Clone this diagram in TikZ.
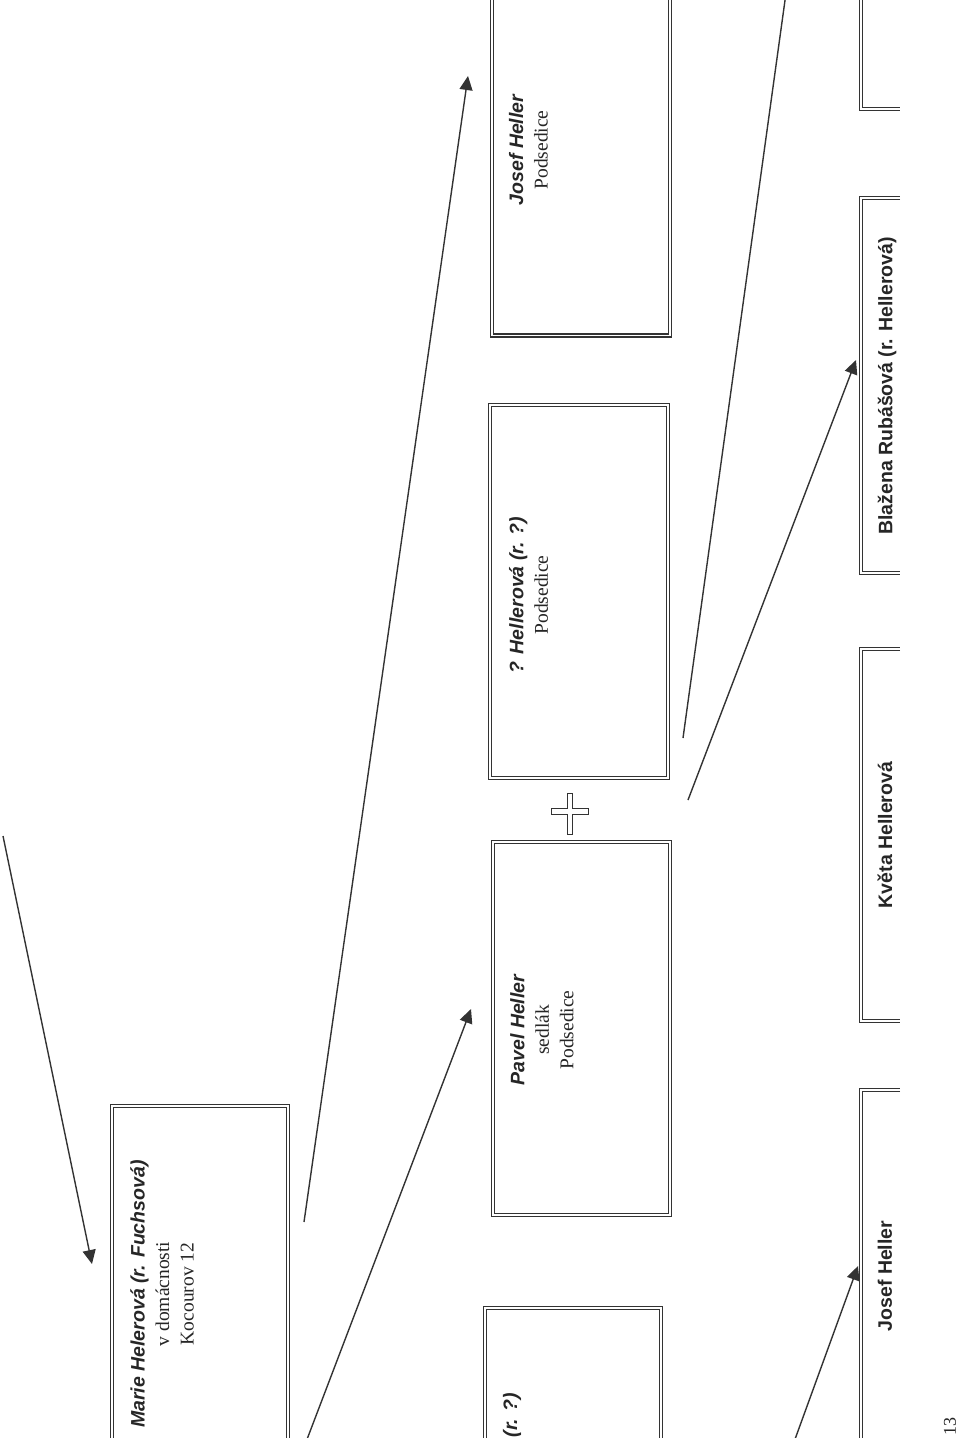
\documentclass[tikz,border=0pt]{standalone}
\usepackage{fontspec}
\setmainfont{Liberation Serif}
\setsansfont{Liberation Sans}
\usetikzlibrary{arrows.meta}
\definecolor{ink}{HTML}{333333}
\definecolor{txt}{HTML}{262626}
\begin{document}
\begin{tikzpicture}[x=1pt,y=-1pt,
  famebox/.style={draw=ink, double=white, double distance=1.8pt, line width=1.3pt, inner sep=0pt, rectangle},
  bracket/.style={draw=ink, double=white, double distance=1.8pt, line width=1.3pt},
  lbl/.style={rotate=90, align=center, text=txt, inner sep=0pt, font=\fontsize{19.5}{24.5}\selectfont},
  nm/.style={},
  conn/.style={draw=ink, line width=1.4pt},
  arr/.style={conn, -{Triangle[length=14pt,width=13pt]}}]
\useasboundingbox (0,0) rectangle (960,1438);
\clip (0,0) rectangle (960,1438);

% middle column boxes
\node[famebox, minimum width=178pt, minimum height=373pt] (josefbox) at (581,149) {};
\node[famebox, minimum width=178pt, minimum height=373pt] (hellbox) at (579,591.5) {};
\node[famebox, minimum width=177pt, minimum height=373pt] (pavelbox) at (581.5,1028.5) {};
\node[famebox, minimum width=176pt, minimum height=373pt] (rbox) at (573,1494.5) {};
\node[famebox, minimum width=176pt, minimum height=373pt] (mariebox) at (200,1292.5) {};

% texts
\node[lbl] (josefT) at (528.5,150) {{\sffamily\bfseries\itshape Josef Heller}\\Podsedice};
\node[lbl] (hellT) at (528.5,595) {{\sffamily\bfseries\itshape ? Hellerová (r. ?)}\\Podsedice};
\node[lbl] (pavelT) at (542,1030) {{\sffamily\bfseries\itshape Pavel Heller}\\sedlák\\Podsedice};
\node[lbl] (marieT) at (162,1294) {{\sffamily\bfseries\itshape Marie Helerová (r. Fuchsová)}\\v domácnosti\\Kocourov 12};
\node[lbl, anchor=east] (rT) at (512,1393) {\sffamily\bfseries\itshape (r. ?)};

% right column brackets
\draw[bracket] (900,-10) -- (861,-10) -- (861,109) -- (900,109);
\draw[bracket] (900,198) -- (861,198) -- (861,573) -- (900,573);
\draw[bracket] (900,649) -- (861,649) -- (861,1021) -- (900,1021);
\draw[bracket] (900,1090) -- (861,1090) -- (861,1470) -- (900,1470);
\node[lbl, font=\fontsize{19.5}{24.5}\selectfont\sffamily\bfseries] (blazT) at (887,386) {Blažena Rubášová (r. Hellerová)};
\node[lbl, font=\fontsize{19.5}{24.5}\selectfont\sffamily\bfseries] (kvetT) at (885,835) {Květa Hellerová};
\node[lbl, font=\fontsize{19.5}{24.5}\selectfont\sffamily\bfseries] (josef2T) at (885,1276) {Josef Heller};

% cross
\draw[ink, line width=1pt] (567,793) -- (572,793) -- (572,808) -- (588,808) -- (588,814) -- (572,814) -- (572,834) -- (567,834) -- (567,814) -- (551,814) -- (551,808) -- (567,808) -- cycle;

% connectors
\coordinate (a1s) at (3,836);   \coordinate (a1e) at (92,1264);
\coordinate (a2s) at (304,1222); \coordinate (a2e) at (468,76);
\coordinate (a3s) at (306,1442); \coordinate (a3e) at (471,1009);
\coordinate (l4s) at (683,738);  \coordinate (l4e) at (785.6,-4);
\coordinate (a5s) at (688,800);  \coordinate (a5e) at (856,360);
\coordinate (a6s) at (794,1442); \coordinate (a6e) at (858,1266);
\draw[arr] (a1s) -- (a1e);
\draw[arr] (a2s) -- (a2e);
\draw[arr] (a3s) -- (a3e);
\draw[conn] (l4s) -- (l4e);
\draw[arr] (a5s) -- (a5e);
\draw[arr] (a6s) -- (a6e);

% page number
\node[rotate=90, inner sep=0pt, text=txt, font=\fontsize{18}{18}\selectfont] (pg) at (950,1426) {13};
\end{tikzpicture}
\end{document}
